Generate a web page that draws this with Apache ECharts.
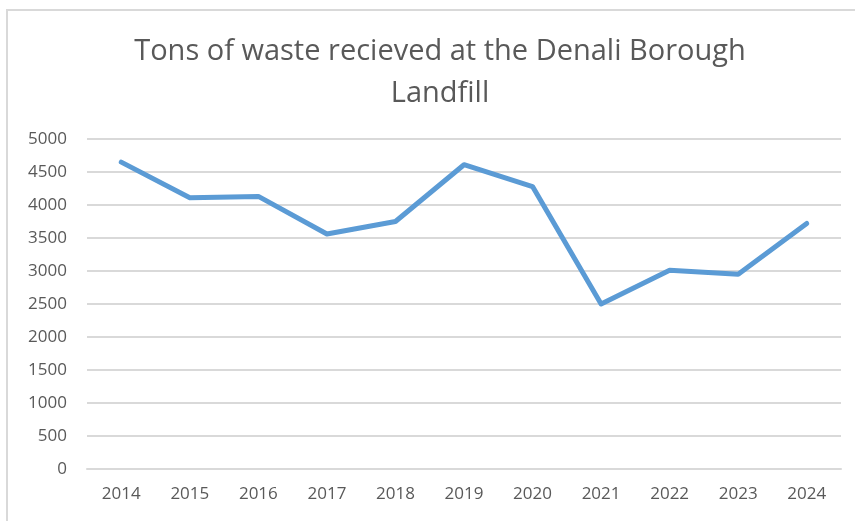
<!DOCTYPE html>
<html>
<head>
<meta charset="utf-8">
<script src="https://cdn.jsdelivr.net/npm/echarts@6/dist/echarts.min.js"></script>
<style>
  html, body { margin: 0; padding: 0; background: #fff; overflow: hidden; }
  #frame {
    position: absolute; left: 6px; top: 9px; width: 900px; height: 600px;
    border: 2px solid #d9d9d9; box-sizing: border-box;
  }
  #chart { position: absolute; left: 0; top: 0; width: 855px; height: 521px; }
</style>
</head>
<body>
<div id="frame"></div>
<div id="chart"></div>
<script>
// Chart data
const years = ['2014', '2015', '2016', '2017', '2018', '2019', '2020', '2021', '2022', '2023', '2024'];
const tons = [4650, 4110, 4130, 3560, 3750, 4610, 4280, 2500, 3010, 2950, 3720];
const titleText = 'Tons of waste recieved at the Denali Borough\nLandfill';

const chart = echarts.init(document.getElementById('chart'));

const option = {
  animation: false,
  title: {
    text: titleText,
    left: 435,
    textAlign: 'center',
    top: 26,
    textStyle: {
      fontFamily: 'Open Sans',
      fontSize: 29,
      fontWeight: 'normal',
      color: '#595959',
      lineHeight: 42,
    },
  },
  grid: {
    left: 87,
    right: 14,
    top: 139,
    bottom: 52,
    containLabel: false,
  },
  xAxis: {
    type: 'category',
    data: years,
    boundaryGap: true,
    axisLine: { show: true, lineStyle: { color: '#d9d9d9', width: 2 } },
    axisTick: { show: false },
    axisLabel: {
      color: '#595959',
      fontFamily: 'Open Sans',
      fontSize: 17,
      margin: 17,
    },
  },
  yAxis: {
    type: 'value',
    min: 0,
    max: 5000,
    interval: 500,
    axisLine: { show: false },
    axisTick: { show: false },
    axisLabel: {
      color: '#595959',
      fontFamily: 'Open Sans',
      fontSize: 17,
      margin: 20,
      formatter: (v) => String(v),
    },
    splitLine: { lineStyle: { color: '#d9d9d9', width: 2 } },
  },
  series: [
    {
      type: 'line',
      data: tons,
      showSymbol: false,
      symbol: 'none',
      lineStyle: { color: '#5b9bd5', width: 5, cap: 'round', join: 'round' },
    },
  ],
};

chart.setOption(option);
</script>
</body>
</html>
